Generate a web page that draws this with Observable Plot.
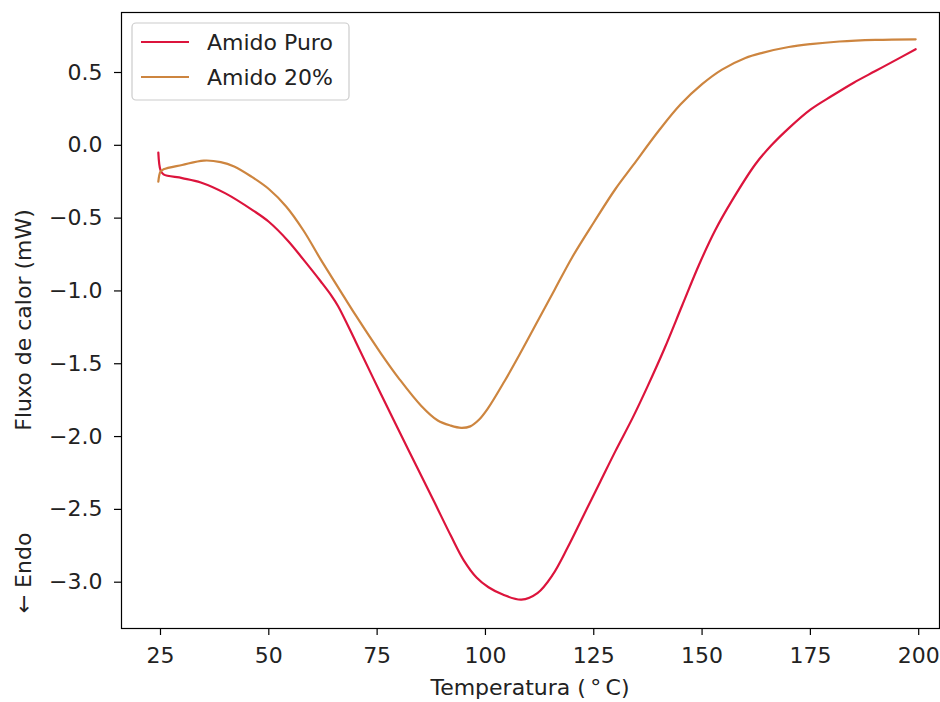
<!DOCTYPE html>
<html><head><meta charset="utf-8">
<script src="https://cdn.jsdelivr.net/npm/d3@7"></script>
<script src="https://cdn.jsdelivr.net/npm/@observablehq/plot@0.6"></script>
<style>body{margin:0;background:#fff} #chart{width:940px;height:702px}</style>
</head><body><div id="chart"></div>
<script>
const seriesNames = ["Amido Puro", "Amido 20%"];
const seriesColors = ["#dc143c", "#cd853f"];

const puroTemp = [24.5, 25.0, 25.7, 30, 34.3, 40, 46.5, 50, 54.4, 58, 62.0, 64.4, 66, 70, 75.9, 82.2, 88.2, 92, 95, 98, 100.7, 104, 108.3, 112, 115.5, 119, 122.5, 126.5, 130, 134, 137.5, 141.4, 145.4, 149.3, 153, 156.9, 162.3, 166, 170.1, 175, 180, 185, 190, 195, 199.3];
const puroFlux = [-0.05, -0.17, -0.20, -0.225, -0.255, -0.33, -0.45, -0.525, -0.655, -0.785, -0.935, -1.03, -1.105, -1.345, -1.71, -2.09, -2.45, -2.68, -2.85, -2.97, -3.035, -3.085, -3.12, -3.075, -2.95, -2.76, -2.55, -2.31, -2.10, -1.87, -1.65, -1.39, -1.10, -0.82, -0.585, -0.38, -0.13, 0.00, 0.12, 0.245, 0.34, 0.43, 0.51, 0.59, 0.66];

const a20Temp = [24.5, 25.0, 25.7, 30, 35, 38.9, 42, 46, 50, 54, 58, 62, 66, 70, 75.9, 80, 85.2, 89, 92, 94.4, 96.5, 98.5, 100.5, 104.4, 108, 112, 116, 120, 125, 130, 134, 140, 145, 150, 154.6, 160, 163.9, 170, 175, 181.7, 190, 199.3];
const a20Flux = [-0.25, -0.18, -0.165, -0.135, -0.105, -0.115, -0.145, -0.215, -0.30, -0.42, -0.585, -0.785, -0.975, -1.165, -1.43, -1.60, -1.79, -1.89, -1.925, -1.94, -1.93, -1.885, -1.81, -1.62, -1.43, -1.21, -0.99, -0.77, -0.53, -0.30, -0.14, 0.10, 0.28, 0.42, 0.52, 0.60, 0.635, 0.675, 0.695, 0.713, 0.724, 0.728];

const xTicks = [25, 50, 75, 100, 125, 150, 175, 200];
const yTicks = [-3.0, -2.5, -2.0, -1.5, -1.0, -0.5, 0.0, 0.5];
const xLabel = "Temperatura (\u2009°\u2009C)";
const yLabel = "Fluxo de calor (mW)";
const endoLabel = "\u2190 Endo";

const data = [
  ...puroTemp.map((t, i) => ({series: seriesNames[0], t, f: puroFlux[i]})),
  ...a20Temp.map((t, i) => ({series: seriesNames[1], t, f: a20Flux[i]}))
];

const W = 940, H = 702, mL = 121, mR = 1, mT = 12, mB = 74;
const FS = 22;

const plot = Plot.plot({
  width: W, height: H,
  marginLeft: mL, marginRight: mR, marginTop: mT, marginBottom: mB,
  style: {fontFamily: "'DejaVu Sans', sans-serif", fontSize: FS + "px", color: "#000", background: "#fff", overflow: "visible"},
  x: {domain: [16.0, 204.8]},
  y: {domain: [-3.318, 0.912]},
  color: {domain: seriesNames, range: seriesColors},
  marks: [
    Plot.line(data, {x: "t", y: "f", z: "series", stroke: "series", strokeWidth: 2.2, curve: "catmull-rom"}),
    Plot.frame({stroke: "#000", strokeWidth: 1.2}),
    Plot.axisX({ticks: xTicks, tickSize: 7, tickPadding: 12, tickFormat: d => String(d), label: null, strokeWidth: 1.2, fill: "#222"}),
    Plot.axisY({ticks: yTicks, tickSize: 7, tickPadding: 12, tickFormat: d3.format(".1f"), label: null, strokeWidth: 1.2, fill: "#222"})
  ]
});

const svg = d3.select(plot);
const cx = (mL + (W - mR)) / 2;
const cy = (mT + (H - mB)) / 2;

svg.append("text").attr("x", cx).attr("y", 695).attr("text-anchor", "middle")
  .attr("fill", "#222").style("font-size", FS + "px").text(xLabel);
svg.append("text").attr("transform", `translate(31,${cy}) rotate(-90)`).attr("text-anchor", "middle")
  .attr("fill", "#222").style("font-size", FS + "px").text(yLabel);
svg.append("text").attr("transform", `translate(31,573) rotate(-90)`).attr("text-anchor", "middle")
  .attr("fill", "#222").style("font-size", FS + "px").text(endoLabel);

// legend (matplotlib-style, upper left)
const lg = svg.append("g");
lg.append("rect").attr("x", 132).attr("y", 23).attr("width", 217).attr("height", 77)
  .attr("rx", 4).attr("fill", "#fff").attr("fill-opacity", 0.8).attr("stroke", "#cccccc").attr("stroke-width", 1.2);
seriesNames.forEach((name, i) => {
  const y = 42 + i * 35;
  lg.append("line").attr("x1", 141).attr("x2", 189).attr("y1", y).attr("y2", y)
    .attr("stroke", seriesColors[i]).attr("stroke-width", 2.2);
  lg.append("text").attr("x", 207).attr("y", y + 8).attr("text-anchor", "start").attr("fill", "#222")
    .style("font-size", FS + "px").text(name);
});

document.getElementById("chart").appendChild(plot);
</script>
</body></html>
